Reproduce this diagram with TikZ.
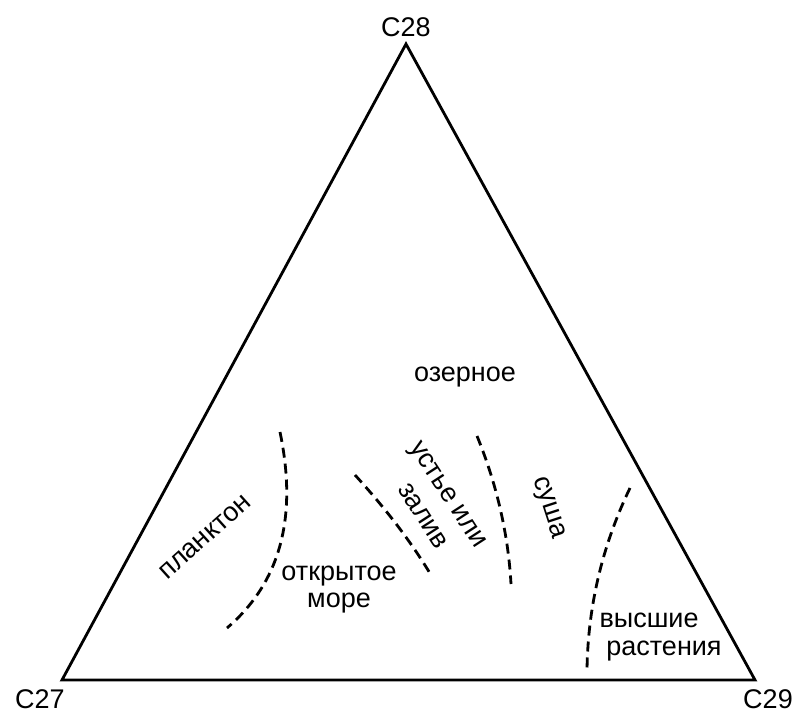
\documentclass[tikz,border=0pt]{standalone}
\usepackage{fontspec}
\setmainfont{Liberation Sans}
\usetikzlibrary{positioning}

\begin{document}
\begin{tikzpicture}[x=1pt, y=-1pt,
labeltext/.style={font=\fontsize{27}{31}\selectfont, inner sep=0pt, align=center},
border/.style={line width=2.8pt, line join=miter},
divide/.style={line width=2.8pt, dash pattern=on 10pt off 6pt},
]
\useasboundingbox (0,0) rectangle (800,711);

%Corners
\coordinate (c28) at (406,44);
\coordinate (c27) at (62,680);
\coordinate (c29) at (755,680);

%Corner labels
\node[labeltext] (t28) at (406,27) {C28};
\node[labeltext] (t27) at (40,699) {C27};
\node[labeltext] (t29) at (768,699) {C29};

%Triangle
\draw[border] (c27) -- (c28) -- (c29) -- cycle;

%Fields
\node[labeltext] (lake)  at (465,377) {озерное};
\node[labeltext, rotate=42] (plank) at (205,537) {планктон};
\node[labeltext] (sea)   at (339,590) {открытое\\[-4pt]море};
\node[labeltext, rotate=-57] (mouth) at (446,496) {устье или};
\node[labeltext, rotate=-57] (bay)   at (423,516) {залив};
\node[labeltext, rotate=-72] (land)  at (548,508) {суша};
\node[labeltext] (high1) at (649,620) {высшие};
\node[labeltext] (high2) at (664,651) {растения};

%Boundaries
\draw[divide] (280,432) .. controls (292,490) and (295,570) .. (227,628);
\draw[divide] (355,475) .. controls (385,508) and (410,540) .. (431,575);
\draw[divide] (477,436) .. controls (495,480) and (508,530) .. (511,584);
\draw[divide] (630,488) .. controls (605,540) and (588,600) .. (587,670);

\end{tikzpicture}
\end{document}
